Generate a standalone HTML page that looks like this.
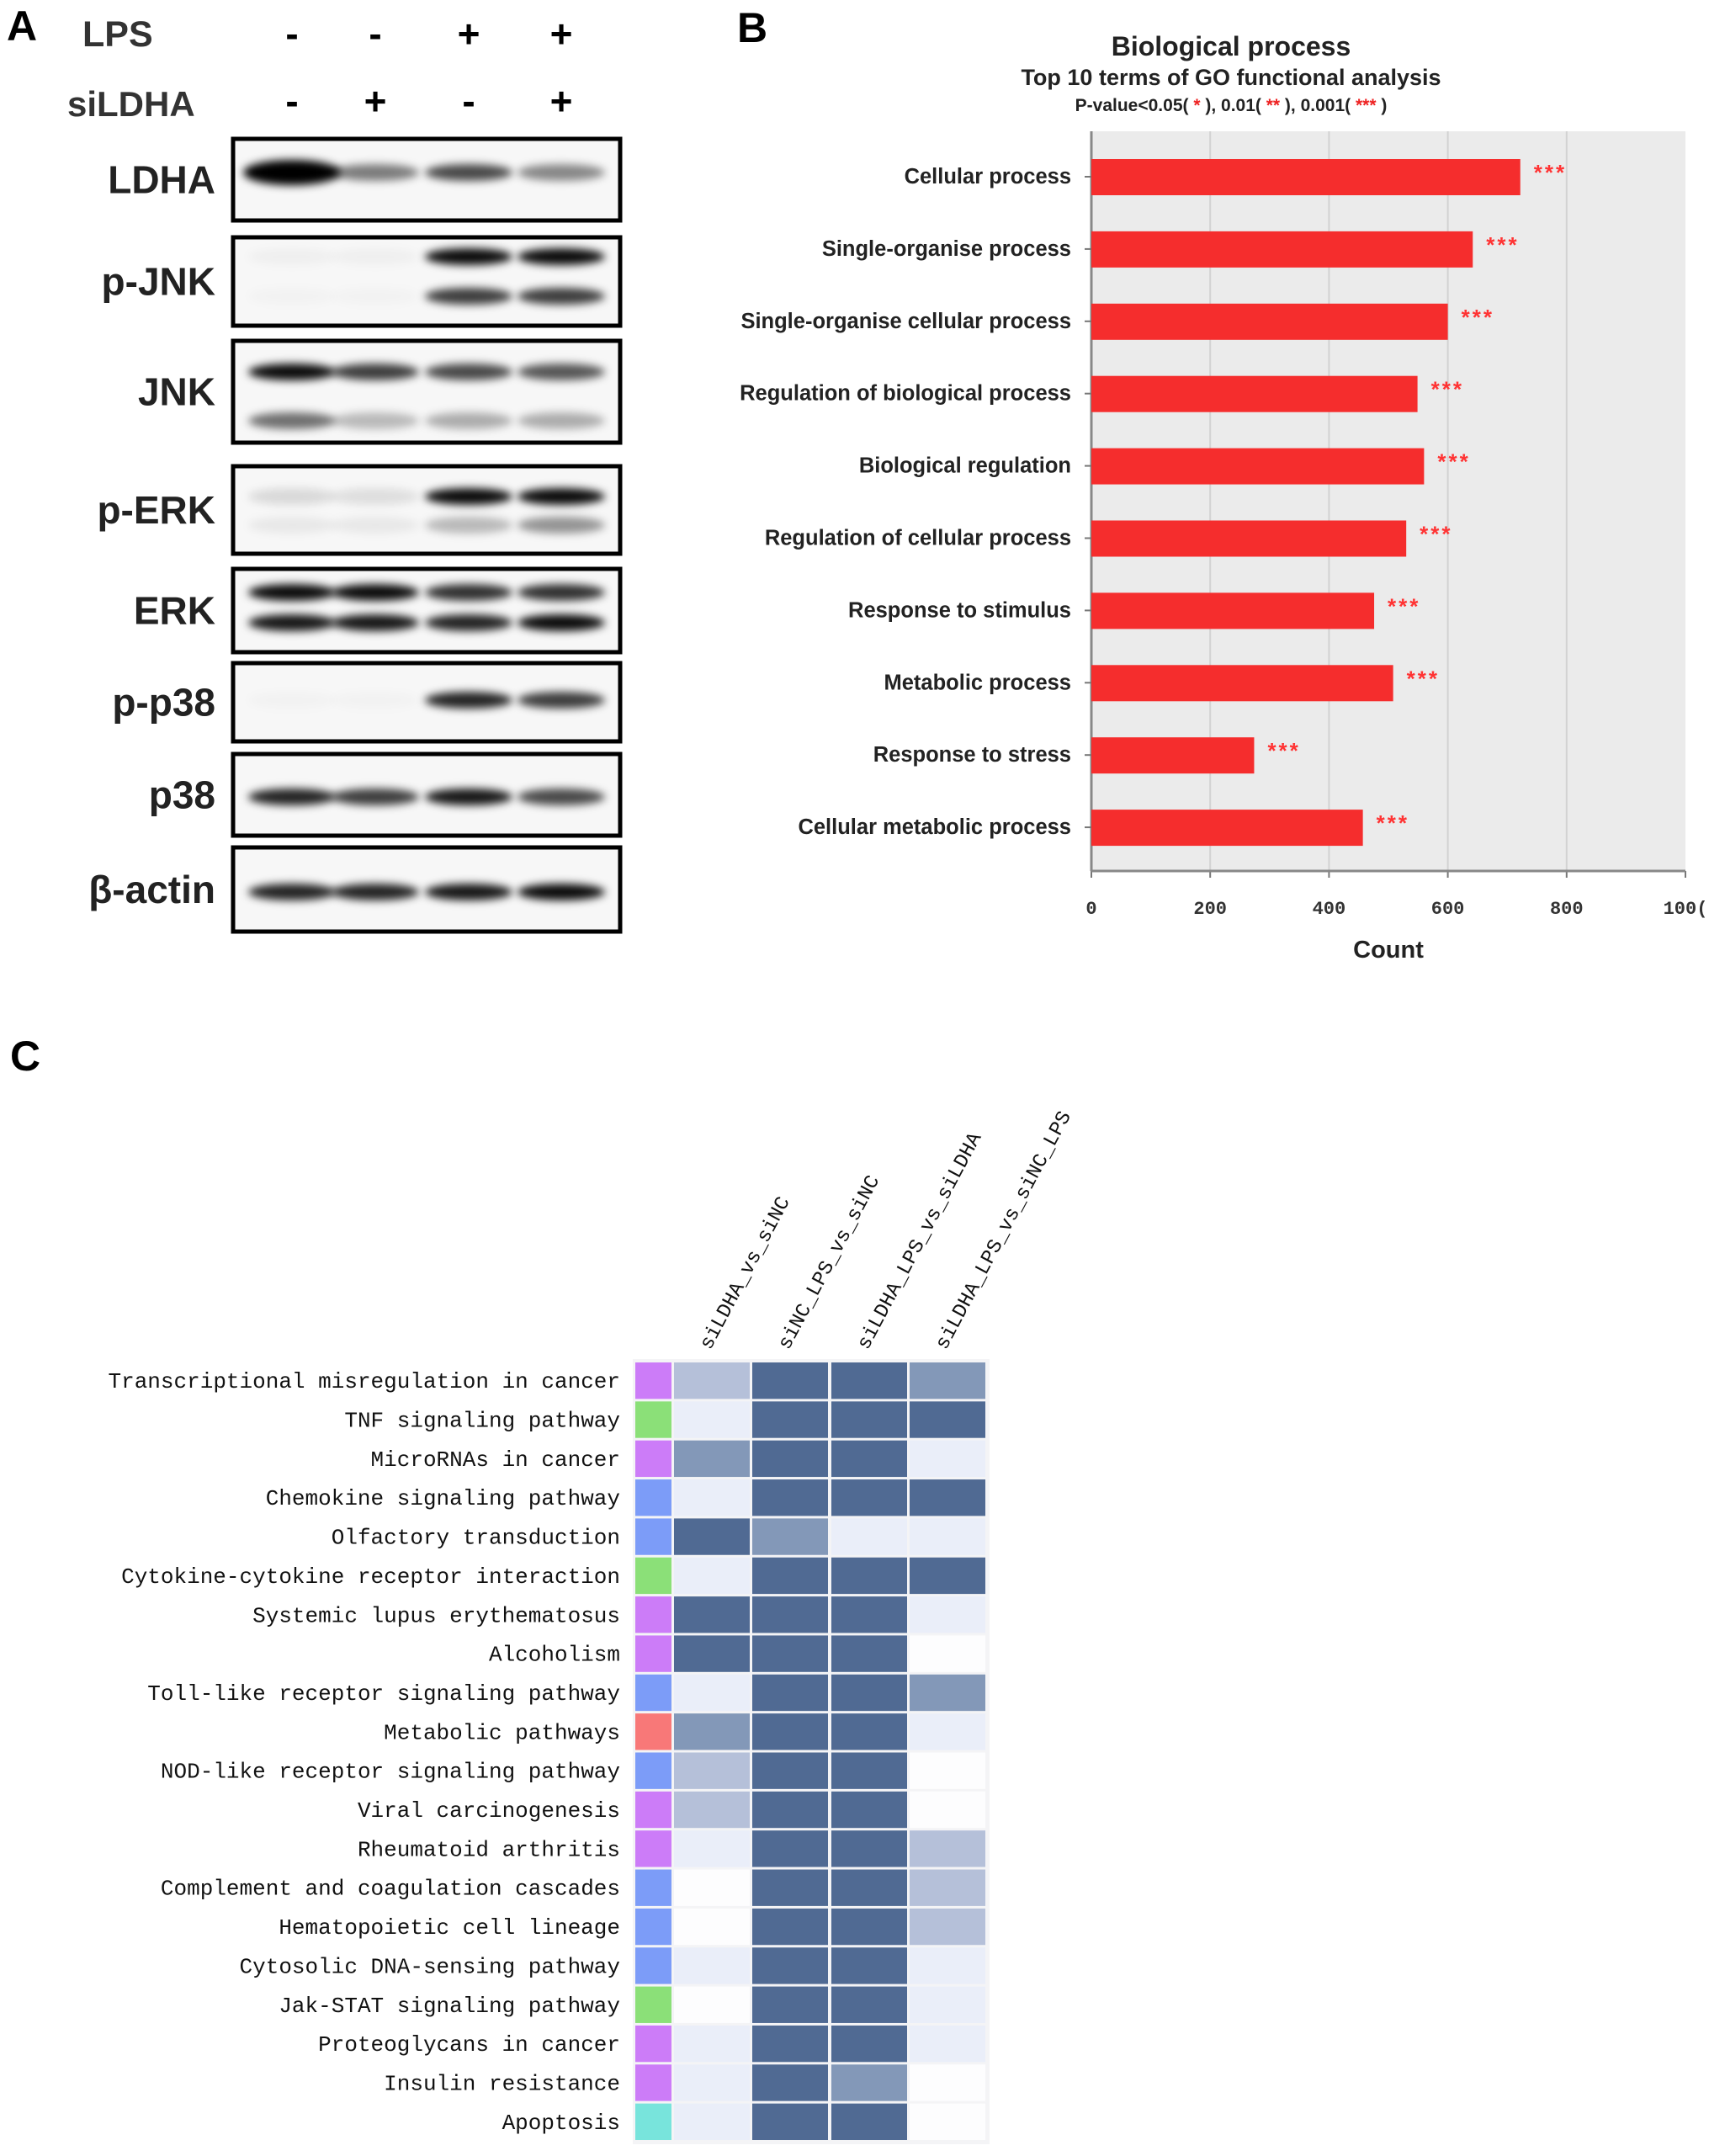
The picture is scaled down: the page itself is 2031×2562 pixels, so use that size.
<!DOCTYPE html>
<html><head><meta charset="utf-8">
<style>
html,body{margin:0;padding:0;background:#fff;}
body{width:2031px;height:2562px;position:relative;overflow:hidden;font-family:"Liberation Sans",sans-serif;}
svg{position:absolute;left:0;top:0;}
</style></head>
<body>
<svg id="fig" width="2031" height="2562" xmlns="http://www.w3.org/2000/svg">
<defs>
<filter id="blur" x="-20%" y="-100%" width="140%" height="300%"><feGaussianBlur stdDeviation="5"/></filter>
</defs>
<g id="panelA">
<text x="8" y="48" font-size="50" font-weight="bold">A</text>
<text x="98" y="55" font-size="43" font-weight="bold" fill="#333">LPS</text>
<text x="80" y="138" font-size="42" font-weight="bold" fill="#333">siLDHA</text>
<g id="signs" font-size="46" font-weight="bold" text-anchor="middle"></g>
<g id="blots"></g>
</g>
<g id="panelB">
<text x="876" y="50" font-size="50" font-weight="bold">B</text>
<text x="1463" y="66" font-size="32" font-weight="bold" text-anchor="middle" fill="#222">Biological process</text>
<text x="1463" y="101" font-size="27" font-weight="bold" text-anchor="middle" fill="#222">Top 10 terms of GO functional analysis</text>
<text x="1463" y="132" font-size="21" font-weight="bold" text-anchor="middle" fill="#222">P-value&lt;0.05( <tspan fill="#e22">*</tspan> ),   0.01( <tspan fill="#e22">**</tspan> ),   0.001( <tspan fill="#e22">***</tspan> )</text>
<g id="bars"></g>
</g>
<g id="panelC">
<text x="12" y="1272" font-size="50" font-weight="bold">C</text>
<g id="heat"></g>
</g>
</svg>
<script>
const NS='http://www.w3.org/2000/svg';
function mk(tag,attrs,parent){const e=document.createElementNS(NS,tag);for(const k in attrs)e.setAttribute(k,attrs[k]);parent.appendChild(e);return e;}

// ---------- Panel A ----------
const lps=['-','-','+','+'];
const sildha=['-','+','-','+'];
const laneX=[347,446,557,667];
const signs=document.getElementById('signs');
lps.forEach((s,i)=>{const t=mk('text',{x:laneX[i],y:56},signs);t.textContent=s;

});
sildha.forEach((s,i)=>{const t=mk('text',{x:laneX[i],y:136},signs);t.textContent=s;

});
const blotNames=['LDHA','p-JNK','JNK','p-ERK','ERK','p-p38','p38','β-actin'];
const blotBox=[[165,262],[282,387],[405,526],[554,658],[676,775],[788,881],[896,993],[1007,1107]];
const blotBands=[
 [[205,[1.0,0.5,0.7,0.45]]],
 [[305,[0.03,0.03,0.95,0.95]],[352,[0.02,0.02,0.75,0.75]]],
 [[442,[0.95,0.75,0.7,0.65]],[500,[0.55,0.25,0.3,0.3]]],
 [[590,[0.12,0.1,0.95,0.95]],[624,[0.06,0.06,0.25,0.4]]],
 [[704,[0.95,0.95,0.8,0.8]],[740,[0.9,0.9,0.85,0.95]]],
 [[832,[0.02,0.02,0.85,0.75]]],
 [[947,[0.85,0.75,0.9,0.7]]],
 [[1060,[0.85,0.85,0.9,0.95]]]
];
const blots=document.getElementById('blots');
blotNames.forEach((n,i)=>{
 const g=mk('g',{},blots);
 
 
 const [y0,y1]=blotBox[i];
 mk('rect',{x:277,y:y0,width:460,height:y1-y0,fill:'#f7f7f7'},g);
 blotBands[i].forEach(([by,ints])=>{
  ints.forEach((v,j)=>{
   mk('ellipse',{cx:laneX[j],cy:by,rx:i===0&&j===0?58:52,ry:i===0&&j===0?15:10,fill:'#000','fill-opacity':v,filter:'url(#blur)'},g);
  });
 });
 mk('rect',{x:277,y:y0,width:460,height:y1-y0,fill:'none',stroke:'#000','stroke-width':5},g);
 const t=mk('text',{x:256,y:(y0+y1)/2+16,'font-size':46,'font-weight':'bold','text-anchor':'end',fill:'#222'},g);
 t.textContent=n;
});

// ---------- Panel B ----------
const terms=['Cellular process','Single-organise process','Single-organise cellular process','Regulation of biological process','Biological regulation','Regulation of cellular process','Response to stimulus','Metabolic process','Response to stress','Cellular metabolic process'];
const counts=[722,642,600,549,560,530,476,508,274,457];
const xTicks=[0,200,400,600,800,1000];
const tickLabels=['0','200','400','600','800','100('];
const X0=1297,X1=2003,PT=156,PB=1035;
const xs=v=>X0+(X1-X0)*v/1000;
const rowC=i=>210+i*85.9;
const bars=document.getElementById('bars');
mk('rect',{x:X0,y:PT,width:X1-X0,height:PB-PT,fill:'#ebebeb'},bars);
xTicks.forEach((t,i)=>{
 if(i>0&&i<xTicks.length-1)mk('line',{x1:xs(t),x2:xs(t),y1:PT,y2:PB,stroke:'#d2d2d2','stroke-width':2},bars);
 mk('line',{x1:xs(t),x2:xs(t),y1:PB,y2:PB+8,stroke:'#777','stroke-width':2},bars);
 const tl=mk('text',{x:xs(t),y:1086,'font-size':22,'font-weight':'bold','font-family':'Liberation Mono, monospace','text-anchor':'middle',fill:'#333'},bars);
 tl.textContent=tickLabels[i];
 
 
});
mk('line',{x1:X0,x2:X1,y1:PB,y2:PB,stroke:'#888','stroke-width':3},bars);
mk('line',{x1:X0,x2:X0,y1:PT,y2:PB,stroke:'#888','stroke-width':3},bars);
counts.forEach((c,i)=>{
 const y=rowC(i);
 const r=mk('rect',{x:X0,y:y-21,width:xs(c)-X0,height:43,fill:'#f52d2d'},bars);
 
 
 const s=mk('text',{x:xs(c)+16,y:y+4,'font-size':26,'font-weight':'bold',fill:'#f33','letter-spacing':'3'},bars);
 s.textContent='***';
 
 
 mk('line',{x1:X0-8,x2:X0,y1:y,y2:y,stroke:'#777','stroke-width':2},bars);
 const l=mk('text',{x:1273,y:y+8,'font-size':25.5,'font-weight':'bold','text-anchor':'end',fill:'#222'},bars);
 l.textContent=terms[i];
 
 
});
const xt=mk('text',{x:1650,y:1138,'font-size':29,'font-weight':'bold','text-anchor':'middle',fill:'#222'},bars);
xt.textContent='Count';



// ---------- Panel C ----------
const pathways=['Transcriptional misregulation in cancer','TNF signaling pathway','MicroRNAs in cancer','Chemokine signaling pathway','Olfactory transduction','Cytokine-cytokine receptor interaction','Systemic lupus erythematosus','Alcoholism','Toll-like receptor signaling pathway','Metabolic pathways','NOD-like receptor signaling pathway','Viral carcinogenesis','Rheumatoid arthritis','Complement and coagulation cascades','Hematopoietic cell lineage','Cytosolic DNA-sensing pathway','Jak-STAT signaling pathway','Proteoglycans in cancer','Insulin resistance','Apoptosis'];
const comparisons=['siLDHA_vs_siNC','siNC_LPS_vs_siNC','siLDHA_LPS_vs_siLDHA','siLDHA_LPS_vs_siNC_LPS'];
const categories=['p','g','p','b','b','g','p','p','b','r','b','p','p','b','b','b','g','p','p','c'];
const col1=[2,1,3,1,4,1,4,4,1,3,2,2,1,0,0,1,0,1,1,1];
const col2=[4,4,4,4,3,4,4,4,4,4,4,4,4,4,4,4,4,4,4,4];
const col3=[4,4,4,4,1,4,4,4,4,4,4,4,4,4,4,4,4,4,3,4];
const col4=[3,4,1,4,1,4,1,0,3,1,0,0,2,2,2,1,1,1,0,0];
const catColor={p:'#cc7cf8',g:'#8be078',b:'#7c9cf8',r:'#f87878',c:'#78e4dc'};
const levelColor=['#fdfdfe','#eaeef9','#b5c0d9','#8398b8','#506a93'];
const heat=document.getElementById('heat');
const HY0=1618,RH=46.35,colX=[801,894,988,1081],CW=90;
mk('rect',{x:752,y:HY0-3,width:424,height:RH*20+6,fill:'#f4f4f6'},heat);
const cols=[col1,col2,col3,col4];
pathways.forEach((p,i)=>{
 const y=HY0+i*RH;
 const s=mk('rect',{x:755,y:y+1,width:43,height:RH-3,fill:catColor[categories[i]]},heat);
 
 
 cols.forEach((c,j)=>{
  const r=mk('rect',{x:colX[j],y:y+1,width:CW,height:RH-3,fill:levelColor[c[i]]},heat);
  
  
 });
 const t=mk('text',{x:737,y:y+RH/2+8,'font-size':26,'font-family':'Liberation Mono, monospace','text-anchor':'end',fill:'#111'},heat);
 t.textContent=p;
 
 
});
comparisons.forEach((c,j)=>{
 const x=colX[j]+CW/2;
 const t=mk('text',{x:0,y:0,'font-size':24,'font-family':'Liberation Mono, monospace',fill:'#111',transform:'translate('+(x-2)+',1605) rotate(-62)'},heat);
 t.textContent=c;
 
 
});
</script>
</body></html>
